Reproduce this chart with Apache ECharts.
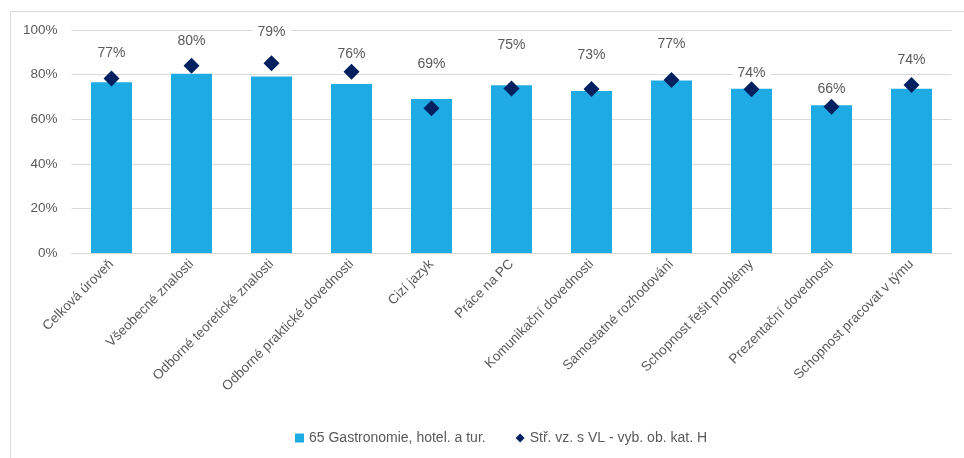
<!DOCTYPE html>
<html>
<head>
<meta charset="utf-8">
<script src="https://cdn.jsdelivr.net/npm/echarts@6/dist/echarts.min.js"></script>
<style>
html,body{margin:0;padding:0;background:#fff;}
#chart{width:964px;height:458px;}
</style>
</head>
<body>
<div id="chart"></div>
<script>
var categories = ["Celková úroveň","Všeobecné znalosti","Odborné teoretické znalosti","Odborné praktické dovednosti","Cizí jazyk","Práce na PC","Komunikační dovednosti","Samostatné rozhodování","Schopnost řešit problémy","Prezentační dovednosti","Schopnost pracovat v týmu"];
var barName = "65 Gastronomie, hotel. a tur.";
var barValues = [76.6, 80.4, 79.2, 75.8, 69.1, 75.2, 72.7, 77.3, 73.6, 66.2, 73.6];
var markerName = "Stř. vz. s VL - vyb. ob. kat. H";
var markerValues = [78.3, 84.0, 85.1, 81.3, 64.9, 73.8, 73.5, 77.6, 73.4, 65.6, 75.3];
var yTicks = [0, 20, 40, 60, 80, 100];

// label lift above bar top (layout only, px)
var labelLift = [20, 24, 35, 21, 26, 31, 27, 27, 7, 7, 20];

var font = "'Liberation Sans', Arial, sans-serif";
var grey = '#595959';

var chart = echarts.init(document.getElementById('chart'));
chart.setOption({
  animation: false,
  textStyle: {fontFamily: font},
  graphic: [{
    type: 'rect', shape: {x: 10.5, y: 11.5, width: 1200, height: 1200},
    style: {fill: 'none', stroke: '#d9d9d9', lineWidth: 1}, silent: true
  }],
  grid: {left: 71.5, right: 12.5, top: 30, bottom: 205},
  legend: {
    bottom: 8, left: 290, itemGap: 30, itemWidth: 9, itemHeight: 9,
    textStyle: {color: grey, fontSize: 14, fontFamily: font},
    data: [
      {name: barName, icon: 'rect'},
      {name: markerName, icon: 'diamond', itemStyle: {color: '#002060', opacity: 1}}
    ]
  },
  xAxis: {
    type: 'category', data: categories,
    axisLine: {lineStyle: {color: '#d9d9d9'}},
    axisTick: {show: false},
    axisLabel: {rotate: 45, interval: 0, color: grey, fontSize: 13.5, fontFamily: font, margin: 9}
  },
  yAxis: {
    type: 'value', min: 0, max: 100, interval: 20,
    axisLabel: {formatter: '{value}%', color: grey, fontSize: 13.5, fontFamily: font, margin: 14},
    axisLine: {show: false}, axisTick: {show: false},
    splitLine: {lineStyle: {color: '#d9d9d9'}}
  },
  series: [{
    name: barName, type: 'bar', barWidth: 41,
    itemStyle: {color: '#1eabe3'},
    data: barValues.map(function(v, i){
      return {value: v, label: {distance: labelLift[i]}};
    }),
    label: {
      show: true, position: 'top', color: grey, fontSize: 14, fontFamily: font,
      backgroundColor: '#fff', padding: [2, 5],
      formatter: function(p){ return Math.round(p.value) + '%'; }
    },
    z: 2
  }, {
    name: markerName, type: 'scatter', symbol: 'diamond', symbolSize: 16,
    itemStyle: {color: '#002060', opacity: 1},
    data: markerValues,
    z: 5
  }]
});
</script>
</body>
</html>
